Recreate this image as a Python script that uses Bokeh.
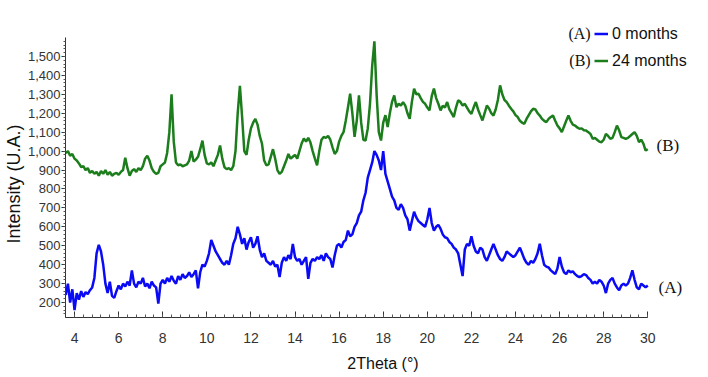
from bokeh.plotting import figure
from bokeh.models import Range1d, Legend, LegendItem, Label, NumeralTickFormatter
from bokeh.embed import file_html
from bokeh.resources import INLINE

# 2Theta grid: 3.6 .. 30.0 in 0.1 degree steps
THETA_START = 3.6
THETA_STEP = 0.1

# (A) 0 months - intensity
intensity_0m = [
    240, 300, 200, 270,
    160, 250, 215, 260, 230, 255, 245, 265, 280, 330,
    460, 505, 470, 400, 300, 250, 310, 235, 225, 260,
    290, 270, 300, 285, 310, 290, 370, 300, 280, 310,
    300, 330, 285, 300, 275, 310, 290, 280, 195, 300,
    320, 300, 330, 310, 340, 315, 300, 340, 320, 350,
    330, 340, 360, 335, 350, 370, 275, 360, 400, 390,
    420, 460, 530, 500, 470, 450, 430, 410, 400, 420,
    400, 450, 510, 540, 600, 560, 510, 540, 480, 520,
    545, 490, 510, 550, 480, 440, 460, 420, 410, 400,
    420, 390, 400, 335, 410, 440, 420, 450, 430, 510,
    440, 420, 430, 400, 420, 440, 325, 410, 430, 420,
    440, 430, 450, 420, 460, 440, 430, 385, 450, 500,
    510, 490, 520, 530, 580, 550, 560, 600, 620, 660,
    680, 740, 780, 860, 900, 940, 1000, 980, 950, 900,
    1000, 880, 840, 800, 760, 740, 700, 690, 720, 700,
    660, 640, 580, 630, 680, 650, 630, 620, 610, 600,
    640, 700, 620, 580, 600, 610, 590, 560, 545, 540,
    520, 510, 490, 480, 460, 400, 340, 480, 510, 500,
    550, 500, 470, 460, 490, 480, 440, 420, 450, 480,
    510, 480, 450, 430, 420, 440, 470, 460, 450, 440,
    450, 470, 490, 460, 430, 410, 400, 420, 410, 430,
    460, 510, 450, 400, 390, 385, 370, 360, 350, 380,
    440, 390, 360, 350, 370, 360, 365, 350, 340, 335,
    340, 350, 345, 330, 320, 300, 310, 300, 320, 310,
    290, 250, 300, 320, 330, 300, 280, 265, 290, 300,
    290, 300, 330, 370, 320, 280, 270, 300, 290, 280,
    290,
]

# (B) 24 months - intensity
intensity_24m = [
    990, 1000, 975, 985,
    960, 950, 935, 915, 920, 900, 910, 885, 895, 880,
    890, 870, 895, 880, 900, 875, 890, 870, 880, 885,
    875, 890, 900, 965, 910, 870, 895, 905, 890, 910,
    900, 920, 960, 975, 950, 910, 890, 880, 885, 920,
    930, 940, 990, 1100, 1300, 1050, 940, 925, 930, 920,
    925, 930, 950, 1000, 945, 955, 970, 1010, 1055, 980,
    935, 930, 940, 920, 950, 980, 1030, 960, 915, 905,
    910, 900, 920, 1000, 1200, 1345, 1180, 1000, 980, 1060,
    1120, 1150, 1170, 1140, 1080, 1040, 950, 925, 930, 970,
    1010, 960, 900, 880, 890, 920, 950, 985, 960, 970,
    980, 960, 1000, 1040, 1066, 1050, 1070, 1045, 1000, 960,
    925, 1000, 1060, 1075, 1070, 1080, 1060, 1020, 985, 1000,
    1050, 1080, 1100, 1160, 1230, 1303, 1200, 1075, 1160, 1294,
    1150, 1060, 1056, 1120, 1250, 1450, 1580, 1300, 1100, 1056,
    1150, 1190, 1127, 1200, 1260, 1294, 1232, 1250, 1240, 1259,
    1240, 1200, 1171, 1260, 1330, 1300, 1303, 1280, 1260, 1250,
    1230, 1215, 1290, 1330, 1280, 1250, 1215, 1240, 1230, 1259,
    1220, 1200, 1180, 1230, 1268, 1260, 1240, 1250, 1230, 1210,
    1197, 1230, 1259, 1220, 1190, 1162, 1200, 1241, 1225, 1200,
    1188, 1220, 1270, 1347, 1300, 1270, 1259, 1240, 1224, 1210,
    1190, 1180, 1160, 1150, 1144, 1170, 1190, 1210, 1224, 1220,
    1200, 1188, 1170, 1160, 1153, 1170, 1180, 1188, 1160, 1135,
    1120, 1100, 1130, 1160, 1188, 1160, 1140, 1135, 1125, 1118,
    1120, 1110, 1109, 1100, 1090, 1065, 1070, 1060, 1050, 1047,
    1060, 1091, 1080, 1065, 1070, 1100, 1135, 1110, 1074, 1070,
    1065, 1070, 1080, 1090, 1100, 1080, 1047, 1060, 1040, 1003,
    1010,
]

series_names = ["0 months", "24 months"]
series_tags = ["(A)", "(B)"]
series_colors = ["#0a0af5", "#1b7d1b"]

# axis extents (data units)
X_AXIS = (3.59, 30.0)
Y_AXIS = (121, 1600)

theta = [round(THETA_START + i * THETA_STEP, 2) for i in range(len(intensity_0m))]
assert len(intensity_0m) == len(intensity_24m)

p = figure(width=700, height=377, output_backend="svg", toolbar_location=None,
           x_range=Range1d(X_AXIS[0], 32.39), y_range=Range1d(Y_AXIS[0], 1795.5),
           min_border_left=64, min_border_right=0, min_border_top=0, min_border_bottom=60)
p.outline_line_color = None
p.xgrid.grid_line_color = None
p.ygrid.grid_line_color = None
p.background_fill_color = "white"
p.border_fill_color = "white"

r_a = p.line(theta, intensity_0m, line_color=series_colors[0], line_width=2.5)
r_b = p.line(theta, intensity_24m, line_color=series_colors[1], line_width=2.5)

# axes
p.xaxis.axis_label = "2Theta (°)"
p.yaxis.axis_label = "Intensity (U.A.)" + "\u00a0" * 10
p.xaxis.bounds = (X_AXIS[0], X_AXIS[1] + 0.001)
p.yaxis.bounds = (Y_AXIS[0], Y_AXIS[1] - 1)
for ax in (p.xaxis[0], p.yaxis[0]):
    ax.axis_label_text_font = "Liberation Sans"
    ax.axis_label_text_font_style = "normal"
    ax.axis_label_text_color = "#111111"
    ax.major_label_text_font = "Liberation Sans"
    ax.major_label_text_color = "#333333"
    ax.axis_line_color = "#333333"
    ax.major_tick_line_color = "#333333"
    ax.minor_tick_line_color = "#555555"

p.xaxis.ticker.desired_num_ticks = 14
p.xaxis.ticker.num_minor_ticks = 5
p.xaxis.major_tick_in = 6
p.xaxis.major_tick_out = 0
p.xaxis.minor_tick_in = 3
p.xaxis.minor_tick_out = 0
p.xaxis.major_label_text_font_size = "14px"
p.xaxis.major_label_standoff = 15
p.xaxis.axis_label_standoff = 9
p.xaxis.axis_label_text_font_size = "16px"

p.yaxis.ticker.desired_num_ticks = 16
p.yaxis.ticker.num_minor_ticks = 5
p.yaxis.major_tick_out = 4
p.yaxis.major_tick_in = 0
p.yaxis.minor_tick_out = 2
p.yaxis.minor_tick_in = 0
p.yaxis.major_label_text_font_size = "13px"
p.yaxis.major_label_standoff = 1
p.yaxis.axis_label_standoff = 1
p.yaxis.axis_label_text_font_size = "18px"
p.yaxis.formatter = NumeralTickFormatter(format="0,0")

# legend
legend = Legend(items=[LegendItem(label=series_names[0], renderers=[r_a]),
                       LegendItem(label=series_names[1], renderers=[r_b])],
                location=(527, 245))
legend.background_fill_alpha = 0
legend.border_line_alpha = 0
legend.padding = 2
legend.margin = 0
legend.spacing = 8
legend.glyph_width = 14
legend.glyph_height = 19
legend.label_height = 19
legend.label_standoff = 4
legend.label_text_font = "Liberation Sans"
legend.label_text_font_size = "16px"
legend.label_text_color = "#111111"
p.add_layout(legend, "center")

# tags before legend entries
p.add_layout(Label(x=27.41, y=1622, text=series_tags[0], text_align="right", text_baseline="middle",
                   text_font="Liberation Serif", text_font_size="16px", text_color="#111111"))
p.add_layout(Label(x=27.41, y=1479, text=series_tags[1], text_align="right", text_baseline="middle",
                   text_font="Liberation Serif", text_font_size="16px", text_color="#111111"))

# tags at curve ends
p.add_layout(Label(x=30.40, y=1030, text=series_tags[1], text_align="left", text_baseline="middle",
                   text_font="Liberation Serif", text_font_size="17px", text_color="#111111"))
p.add_layout(Label(x=30.49, y=279, text=series_tags[0], text_align="left", text_baseline="middle",
                   text_font="Liberation Serif", text_font_size="17px", text_color="#111111"))

open("out.html", "w").write(file_html(p, INLINE))
